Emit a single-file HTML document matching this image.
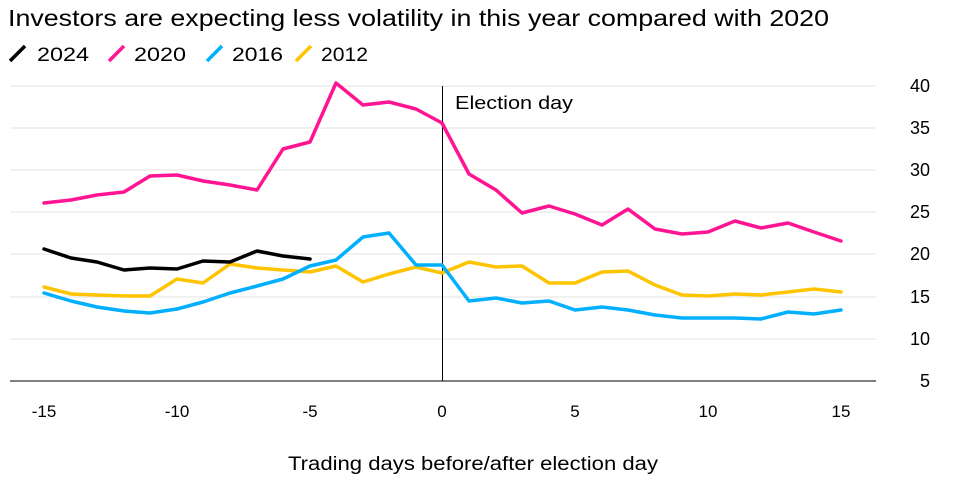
<!DOCTYPE html>
<html><head><meta charset="utf-8"><style>
body{margin:0;background:#fff;}
svg{display:block;font-family:"Liberation Sans",Arial,sans-serif;}
</style></head><body>
<svg width="971" height="484" viewBox="0 0 971 484">
<text x="8" y="26" font-size="23" fill="#000" textLength="821" lengthAdjust="spacingAndGlyphs">Investors are expecting less volatility in this year compared with 2020</text>
<g font-size="19" fill="#000">
<line x1="10" y1="61" x2="25" y2="46" stroke="#000" stroke-width="3.5"/><text x="37" y="61" textLength="52" lengthAdjust="spacingAndGlyphs">2024</text>
<line x1="109" y1="61" x2="124" y2="46" stroke="#ff1493" stroke-width="3.5"/><text x="134" y="61" textLength="52" lengthAdjust="spacingAndGlyphs">2020</text>
<line x1="207" y1="61" x2="222" y2="46" stroke="#00b0ff" stroke-width="3.5"/><text x="232" y="61" textLength="51" lengthAdjust="spacingAndGlyphs">2016</text>
<line x1="296" y1="61" x2="311" y2="46" stroke="#ffc400" stroke-width="3.5"/><text x="321" y="61" textLength="47" lengthAdjust="spacingAndGlyphs">2012</text>
</g>
<g stroke="#e3e3e3" stroke-width="1">
<line x1="10" y1="86" x2="876" y2="86"/><line x1="10" y1="128" x2="876" y2="128"/><line x1="10" y1="170" x2="876" y2="170"/><line x1="10" y1="212" x2="876" y2="212"/><line x1="10" y1="254" x2="876" y2="254"/><line x1="10" y1="297" x2="876" y2="297"/><line x1="10" y1="339" x2="876" y2="339"/>
</g>
<line x1="10" y1="381" x2="876" y2="381" stroke="#000" stroke-width="1"/>
<line x1="442.5" y1="86" x2="442.5" y2="381" stroke="#000" stroke-width="1"/>
<text x="455" y="109" font-size="18" textLength="118" lengthAdjust="spacingAndGlyphs">Election day</text>
<g font-size="18" fill="#000" text-anchor="end">
<text x="930" y="92">40</text><text x="930" y="134">35</text><text x="930" y="176">30</text><text x="930" y="218">25</text><text x="930" y="260">20</text><text x="930" y="303">15</text><text x="930" y="345">10</text><text x="930" y="387">5</text>
</g>
<g font-size="17" fill="#000" text-anchor="middle">
<text x="44" y="417">-15</text><text x="177" y="417">-10</text><text x="310" y="417">-5</text><text x="442" y="417">0</text><text x="575" y="417">5</text><text x="708" y="417">10</text><text x="841" y="417">15</text>
</g>
<text x="288" y="470" font-size="19" textLength="370" lengthAdjust="spacingAndGlyphs">Trading days before/after election day</text>
<g fill="none" stroke-width="3.5" stroke-linejoin="round" stroke-linecap="round">
<polyline stroke="#ffc400" points="44,287 71,294 97,295 124,296 150,296 177,279 203,283 230,264 257,268 283,270 310,272 336,266 363,282 389,274 416,267 442,273 469,262 496,267 522,266 549,283 575,283 602,272 628,271 655,285 682,295 708,296 735,294 761,295 788,292 814,289 841,292"/>
<polyline stroke="#00b0ff" points="44,293 71,301 97,307 124,311 150,313 177,309 203,302 230,293 257,286 283,279 310,266 336,260 363,237 389,233 416,265 442,265 469,301 496,298 522,303 549,301 575,310 602,307 628,310 655,315 682,318 708,318 735,318 761,319 788,312 814,314 841,310"/>
<polyline stroke="#ff1493" points="44,203 71,200 97,195 124,192 150,176 177,175 203,181 230,185 257,190 283,149 310,142 336,83 363,105 389,102 416,109 442,123 469,174 496,190 522,213 549,206 575,214 602,225 628,209 655,229 682,234 708,232 735,221 761,228 788,223 814,232 841,241"/>
<polyline stroke="#000" points="44,249 71,258 97,262 124,270 150,268 177,269 203,261 230,262 257,251 283,256 310,259"/>
</g>
</svg>
</body></html>
